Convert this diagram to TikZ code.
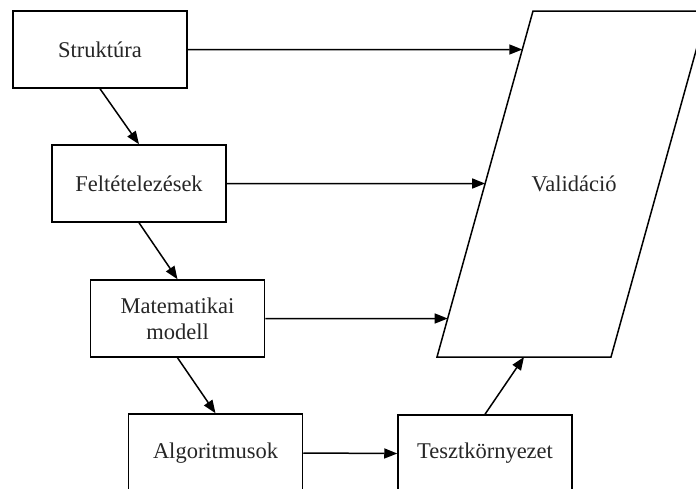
\documentclass[tikz,border=0pt]{standalone}
\usepackage{fontspec}
\setmainfont{Liberation Serif}
\usetikzlibrary{arrows.meta,calc}
\begin{document}
\begin{tikzpicture}[x=1pt,y=-1pt,
  every node/.style={font=\fontsize{22.5}{26}\selectfont, text=black!85},
  stepbox/.style={draw, line width=1.5pt, fill=white, minimum width=174pt, minimum height=77pt, align=center, inner sep=0pt},
  link/.style={line width=1.5pt, -{Triangle[length=13pt,width=10pt]}}]
  \useasboundingbox (0,0) rectangle (696,488);
  \fill[white] (0,0) rectangle (696,488);
  \clip (0,0) rectangle (696,488);

  % flow boxes
  \node[stepbox] (struk) at (100,49.5) {Struktúra};
  \node[stepbox] (felt) at (139,183.5) {Feltételezések};
  \node[stepbox] (mat) at (177.5,318.5) {Matematikai\\modell};
  \node[stepbox, minimum height=78pt] (alg) at (215.5,453) {Algoritmusok};
  \node[stepbox] (teszt) at (485,453.5) {Tesztkörnyezet};

  % validation parallelogram
  \coordinate (vtl) at (533,11);
  \coordinate (vtr) at (707,11);
  \coordinate (vbr) at (611,357);
  \coordinate (vbl) at (437,357);
  \draw[line width=1.5pt, line join=miter] (vtl) -- (vtr) -- (vbr) -- (vbl) -- cycle;
  \node (val) at (574,184) {Validáció};
  \coordinate (vbot) at ($(vbl)!0.5!(vbr)$);

  % entry points on the slanted left side
  \coordinate (vin1) at (intersection of vtl--vbl and struk.east--{$(struk.east)+(100,0)$});
  \coordinate (vin2) at (intersection of vtl--vbl and felt.east--{$(felt.east)+(100,0)$});
  \coordinate (vin3) at (intersection of vtl--vbl and mat.east--{$(mat.east)+(100,0)$});

  % connectors
  \draw[link] (struk.south) -- (felt.north);
  \draw[link] (felt.south) -- (mat.north);
  \draw[link] (mat.south) -- (alg.north);
  \draw[link] (alg.east) -- (teszt.west);
  \draw[link] (teszt.north) -- (vbot);
  \draw[link] (struk.east) -- (vin1);
  \draw[link] (felt.east) -- (vin2);
  \draw[link] (mat.east) -- (vin3);
\end{tikzpicture}
\end{document}
